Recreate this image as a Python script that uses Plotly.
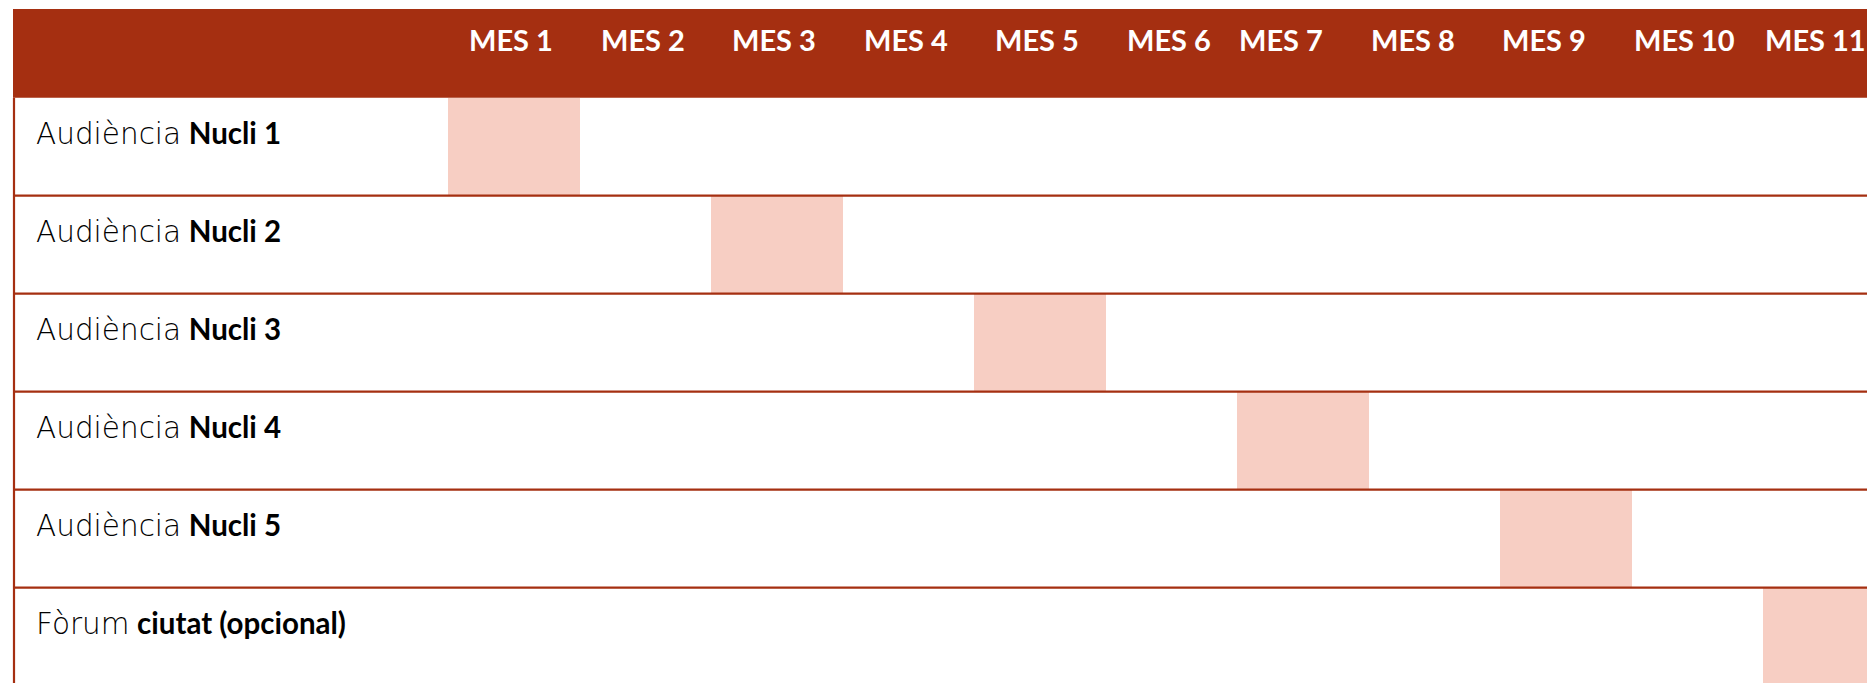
import plotly.graph_objects as go

# ---- data ----
months = ["MES 1", "MES 2", "MES 3", "MES 4", "MES 5", "MES 6",
          "MES 7", "MES 8", "MES 9", "MES 10", "MES 11"]
task_prefix = ["Audiència", "Audiència", "Audiència", "Audiència", "Audiència", "Fòrum"]
task_name = ["Nucli 1", "Nucli 2", "Nucli 3", "Nucli 4", "Nucli 5", "ciutat (opcional)"]
task_month = [1, 3, 5, 7, 9, 11]      # month in which each activity happens
task_duration = [1, 1, 1, 1, 1, 1]    # months

# ---- style ----
HEADER = "#A52F11"
SHADE = "#F7CEC3"
PAGE_W, PAGE_H = 1875, 683
BODY_MARGIN = 8          # default page margin around the plot div
W, H = PAGE_W + 40, PAGE_H
COL_PX = 131.5           # on-screen width of one month column
FIRST_COL_PX = 448       # on-screen x of month 1 column start
ROW_PX = 98
HEADER_BOTTOM_PX = 97.7
HEADER_TOP_PX = 9
TABLE_LEFT_PX = 13.5

def xd(px):
    return (px - FIRST_COL_PX) / COL_PX

def yd(py):
    return (py - HEADER_BOTTOM_PX) / ROW_PX

n_rows = len(task_name)
fig = go.Figure()

fig.add_trace(go.Bar(
    orientation="h",
    y=[i + 0.5 for i in range(n_rows)],
    x=task_duration,
    base=[m - 1 for m in task_month],
    width=1,
    marker=dict(color=SHADE, line=dict(width=0)),
    hoverinfo="skip",
    showlegend=False,
))

shapes = []
shapes.append(dict(type="rect", xref="x", yref="y",
                   x0=xd(TABLE_LEFT_PX - 0.5), x1=xd(PAGE_W + 100),
                   y0=yd(HEADER_TOP_PX), y1=0,
                   fillcolor=HEADER, line=dict(width=0), layer="below"))
for i in range(1, n_rows):
    shapes.append(dict(type="line", xref="x", yref="y",
                       x0=xd(TABLE_LEFT_PX), x1=xd(PAGE_W + 100), y0=i, y1=i,
                       line=dict(color=HEADER, width=2.2), layer="above"))
shapes.append(dict(type="line", xref="x", yref="y",
                   x0=xd(TABLE_LEFT_PX + 0.5), x1=xd(TABLE_LEFT_PX + 0.5),
                   y0=0, y1=n_rows + 1,
                   line=dict(color=HEADER, width=2.2), layer="above"))

annotations = []
for k, lab in enumerate(months):
    annotations.append(dict(
        x=k, y=yd(39.5), xref="x", yref="y", xanchor="left", yanchor="middle",
        xshift=19 if k < 6 else 0, text=f"<b>{lab}</b>", showarrow=False,
        font=dict(family="Lato", size=29, color="white")))
for i in range(n_rows):
    annotations.append(dict(
        x=xd(TABLE_LEFT_PX), y=i + 0.36, xref="x", yref="y",
        xanchor="left", yanchor="middle", xshift=20,
        text=(f"<span style='font-family:DejaVu Sans;font-weight:300'>{task_prefix[i]}</span>"
              f" <b>{task_name[i]}</b>"),
        showarrow=False,
        font=dict(family="Lato", size=29.5, color="black")))

fig.update_layout(
    width=W, height=H,
    margin=dict(l=0, r=0, t=0, b=0),
    paper_bgcolor="white", plot_bgcolor="white",
    xaxis=dict(range=[xd(BODY_MARGIN), xd(BODY_MARGIN + W)], visible=False, fixedrange=True),
    yaxis=dict(range=[yd(BODY_MARGIN + H), yd(BODY_MARGIN)], visible=False, fixedrange=True),
    shapes=shapes, annotations=annotations, bargap=0,
)

fig.write_html("out.html")
